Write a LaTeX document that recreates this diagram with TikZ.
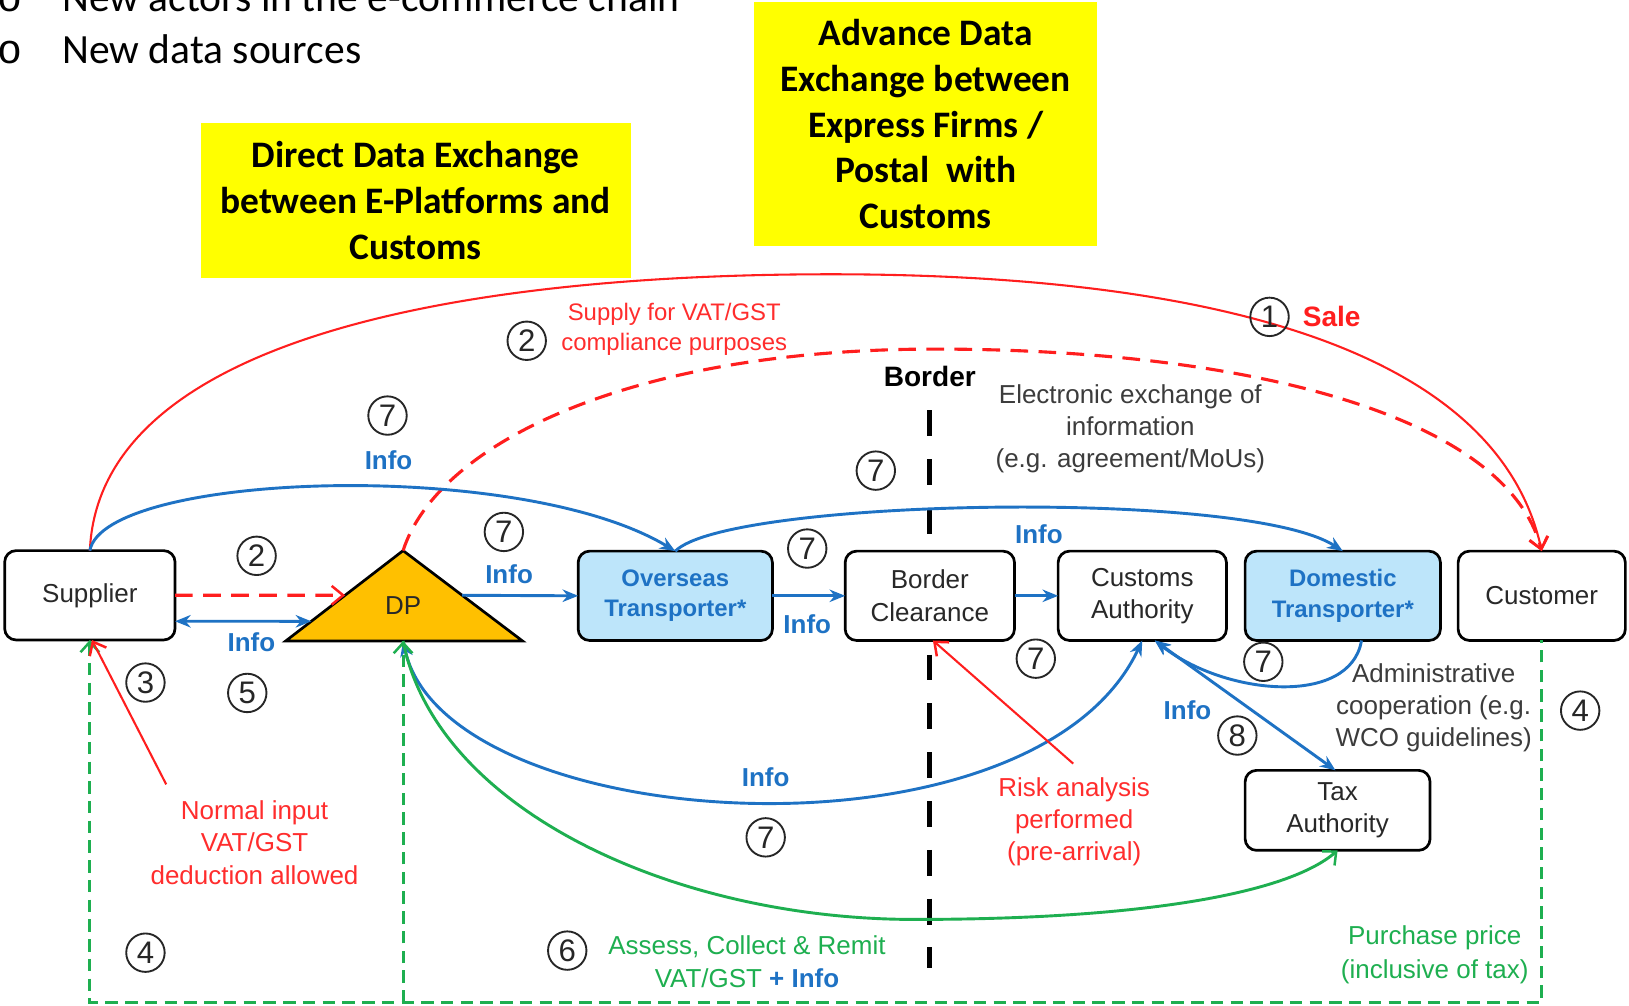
\documentclass[tikz,border=0pt]{standalone}
\usepackage{fontspec}
\setmainfont{Liberation Sans}
\newfontfamily\calibri{Carlito}
\newfontfamily\monofam{Liberation Mono}
\usetikzlibrary{arrows.meta,calc}

\definecolor{lineblue}{RGB}{30,114,196}
\definecolor{boxblue}{RGB}{189,229,250}
\definecolor{linered}{RGB}{255,30,30}
\definecolor{txtred}{RGB}{255,45,45}
\definecolor{linegreen}{RGB}{30,175,80}
\definecolor{dpfill}{RGB}{255,192,0}
\definecolor{txtgrey}{RGB}{60,60,60}
\definecolor{txtdark}{RGB}{40,40,40}
\definecolor{hiyellow}{RGB}{255,255,0}

\pgfdeclarelayer{bg}
\pgfsetlayers{bg,main}

\begin{document}
\begin{tikzpicture}[x=1pt,y=-1pt,
  every node/.style={inner sep=0pt,outer sep=0pt},
  actor/.style={draw=black,line width=2.6pt,rounded corners=11pt,fill=white,align=center,
    text=txtdark,font=\fontsize{25}{31}\selectfont,minimum height=86pt},
  carrier/.style={actor,fill=boxblue,text=lineblue,font=\bfseries\fontsize{23}{29}\selectfont},
  numc/.style={circle,draw=black!85,line width=1.8pt,minimum size=37pt,
    font=\fontsize{30}{30}\selectfont,text=black!85},
  info/.style={text=lineblue,font=\bfseries\fontsize{25}{25}\selectfont},
  note/.style={align=center,font=\fontsize{25}{31}\selectfont},
  ybox/.style={fill=hiyellow,align=center,font=\calibri\bfseries\fontsize{36}{44}\selectfont},
  bullet/.style={anchor=base west,font=\calibri\fontsize{40}{40}\selectfont},
  blueline/.style={draw=lineblue,line width=2.8pt},
  bluetip/.style={-{Stealth[length=15pt,width=12pt]}},
  redline/.style={draw=linered,line width=2pt},
  reddash/.style={draw=linered,line width=3pt,dash pattern=on 17pt off 10pt},
  redtip/.style={-{Straight Barb[length=11pt,width=18pt,line width=2.4pt]}},
  greendash/.style={draw=linegreen,line width=2.8pt,dash pattern=on 12pt off 7pt},
  greenline/.style={draw=linegreen,line width=2.8pt},
  greentip/.style={-{Straight Barb[length=10pt,width=18pt,line width=2.4pt]}},
  borderline/.style={draw=black,line width=5pt,dash pattern=on 25pt off 22pt}
]
\useasboundingbox (0,0) rectangle (1568,968);
\begin{pgfonlayer}{bg}
  \fill[white] (0,0) rectangle (1568,968);
  \draw[borderline] (895,395) -- (895,932);
\end{pgfonlayer}

% bullet list at the top
\node[bullet,font=\monofam\fontsize{40}{40}\selectfont] (o1) at (-2,11) {o};
\node[bullet] (l1) at (60,11) {New actors in the e-commerce chain};
\node[bullet,font=\monofam\fontsize{40}{40}\selectfont] (o2) at (-2,61) {o};
\node[bullet] (l2) at (60,61) {New data sources};

% highlighted headings
\node[ybox,minimum width=414pt,minimum height=150pt] (direct) at (400,193)
  {Direct Data Exchange\\between E-Platforms and\\Customs};
\node[ybox,minimum width=330pt,minimum height=235pt] (advance) at (891,119.5)
  {Advance Data\\Exchange between\\Express Firms /\\Postal\ \ with\\Customs};

% actors
\node[actor,minimum width=164pt] (sup) at (86.5,573) {Supplier};
\node[carrier,minimum width=187pt] (ov) at (650,573.5) {Overseas\\Transporter*};
\node[actor,minimum width=163pt] (bc) at (895,573.5) {Border\\Clearance};
\node[actor,minimum width=162pt] (ca) at (1099.5,573.5) {Customs\\Authority};
\node[carrier,minimum width=188pt] (dom) at (1292.5,573.5) {Domestic\\Transporter*};
\node[actor,minimum width=161pt] (cus) at (1484,573.5) {Customer};
\node[actor,minimum width=178pt,minimum height=77pt] (tax) at (1287.5,780) {Tax\\Authority};

% digital platform triangle
\coordinate (dpA) at (388,530);
\coordinate (dpL) at (275,617);
\coordinate (dpR) at (503,617);
\coordinate (dpB) at (388,617);
\fill[dpfill] (dpA) -- (dpR) -- (dpL) -- cycle;
\draw[black,line width=2.6pt,line join=miter] (dpA) -- (dpR) -- (dpL) -- cycle;
\node[text=txtdark,font=\fontsize{25}{25}\selectfont] (dp) at (388,583) {DP};

% border label
\node[font=\bfseries\fontsize{27}{27}\selectfont] (border) at (895,362) {Border};

% (1) sale and (2) supply for compliance
\draw[redline,redtip] (sup.north) .. controls (95,330) and (430,264) .. (800,264)
  .. controls (1150,264) and (1440,330) .. (cus.north);
\draw[reddash,redtip] (dpA) .. controls (420,430) and (600,336) .. (900,336)
  .. controls (1200,336) and (1450,400) .. (cus.north);
\node[numc] (n1) at (1222,305) {1};
\node[anchor=west,text=linered,font=\bfseries\fontsize{27}{27}\selectfont] (sale) at (1254,305) {Sale};
\node[numc] (n2a) at (507,328) {2};
\node[note,text=txtred,font=\fontsize{23}{28}\selectfont] (supply) at (649,317)
  {Supply for VAT/GST\\compliance purposes};

% info flows along the upper route
\draw[blueline,bluetip] (sup.north) .. controls (100,455) and (500,440) .. (ov.north);
\draw[blueline,bluetip] (ov.north) .. controls (700,480) and (1200,470) .. (dom.north);
\node[numc] (n7a) at (373,400) {7};
\node[info] (i1) at (374,443) {Info};
\node[numc] (n7b) at (843,453) {7};
\node[info] (i2) at (1000,514) {Info};

% supplier to platform
\draw[reddash,redtip] (sup.east) -- ($(dpA)!0.494!(dpL)$);
\draw[blueline,{Stealth[length=15pt,width=12pt]}-{Stealth[length=15pt,width=12pt]}]
  ($(sup.east)+(0,25)$) -- ($(dpA)!0.782!(dpL)$);
\node[numc] (n2b) at (247,535) {2};
\node[info] (i3) at (242,618) {Info};
\node[numc] (n5) at (238,667) {5};

% chain of transport
\draw[blueline,bluetip] ($(dpA)!0.494!(dpR)$) -- (ov.west);
\draw[blueline,bluetip] (ov.east) -- (bc.west);
\draw[blueline,bluetip] (bc.east) -- (ca.west);
\node[numc] (n7c) at (485,512) {7};
\node[info] (i4) at (490,553) {Info};
\node[numc] (n7d) at (777,528) {7};
\node[info] (i5) at (777,601) {Info};
\node[numc] (n7e) at (997,634) {7};

% exchanges with customs
\draw[blueline,{Stealth[length=15pt,width=12pt]}-{Stealth[length=15pt,width=12pt]}]
  (dpB) .. controls (430,805) and (995,840) .. (ca.south);
\node[info] (i6) at (737,748) {Info};
\node[numc] (n7f) at (737,806) {7};
\draw[blueline,bluetip] ($(dom.south)+(18,0)$) .. controls (1300,680) and (1180,670) .. ($(ca.south)+(12,0)$);
\node[numc] (n7g) at (1216,637) {7};
\draw[blueline,{Stealth[length=15pt,width=12pt]}-{Stealth[length=15pt,width=12pt]}]
  ($(ca.south)+(12,0)$) -- ($(tax.north)+(-2,0)$);
\node[info] (i7) at (1143,684) {Info};
\node[numc] (n8) at (1191,708) {8};

% (6) assess, collect and remit
\draw[greenline,greentip] (dpB) .. controls (420,780) and (650,885) .. (880,885)
  .. controls (1100,885) and (1240,860) .. (tax.south);
\node[numc] (n6) at (546,915) {6};
\node[note,text=linegreen,font=\fontsize{25}{32}\selectfont] (assess) at (719,926)
  {Assess, Collect \& Remit\\VAT/GST {\color{lineblue}\bfseries + Info}};

% (4) purchase price
\coordinate (gL) at (86.5,965);
\coordinate (gM) at (388,965);
\coordinate (gR) at (1484,965);
\draw[greendash,{Straight Barb[length=10pt,width=18pt,line width=2.4pt]}-] (sup.south) -- (gL) -- (gR) -- (cus.south);
\draw[greendash,greentip] (gM) -- (dpB);
\node[numc] (n4a) at (140,917) {4};
\node[numc] (n4b) at (1521,684) {4};
\node[note,text=linegreen,font=\fontsize{25}{32}\selectfont] (price) at (1381,919)
  {Purchase price\\(inclusive of tax)};

% (3) input deduction and risk analysis
\coordinate (nfoot) at (160,755);
\draw[redline,redtip] (nfoot) -- ($(sup.south)+(2,0)$);
\node[numc] (n3) at (140,657) {3};
\node[note,text=txtred] (normal) at (245,811) {Normal input\\VAT/GST\\deduction allowed};
\coordinate (rfoot) at (1033,735);
\draw[redline,redtip] (rfoot) -- ($(bc.south)+(3,0)$);
\node[note,text=txtred] (risk) at (1034,791) {Risk analysis\\performed\\(pre-arrival)};

% cooperation notes
\node[note,text=txtgrey] (elec) at (1088,413) {Electronic exchange of\\information\\(e.g. agreement/MoUs)};
\node[note,text=txtgrey] (admin) at (1380,681) {Administrative\\cooperation (e.g.\\WCO guidelines)};
\end{tikzpicture}
\end{document}
